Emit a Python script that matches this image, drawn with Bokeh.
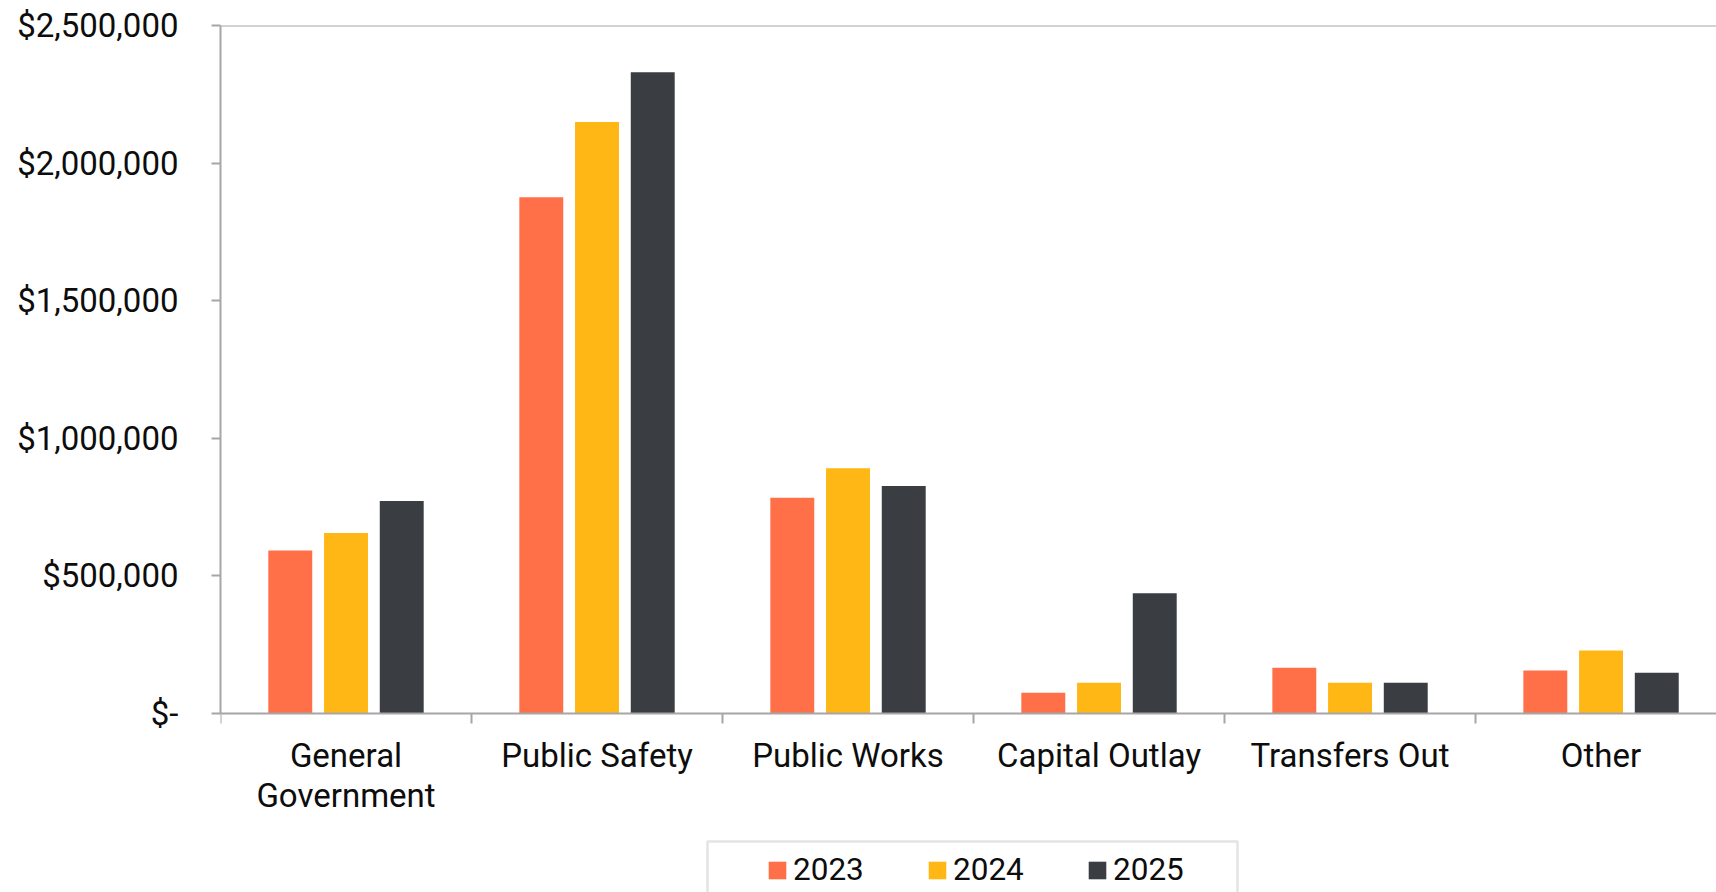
from bokeh.plotting import figure
from bokeh.models import (ColumnDataSource, Range1d, FixedTicker, Span, Legend, LegendItem, BoxAnnotation)
from bokeh.transform import dodge
from bokeh.embed import file_html
from bokeh.resources import INLINE

categories = ["General\nGovernment", "Public Safety", "Public Works", "Capital Outlay", "Transfers Out", "Other"]
v2023 = [592000, 1876000, 784000, 75000, 166000, 156000]
v2024 = [656000, 2149000, 891000, 112000, 112000, 229000]
v2025 = [772000, 2330000, 827000, 437000, 112000, 148000]
years = ["2023", "2024", "2025"]
y_ticks = [0, 500000, 1000000, 1500000, 2000000, 2500000]
y_tick_labels = ["$-", "$500,000", "$1,000,000", "$1,500,000", "$2,000,000", "$2,500,000"]

colors = ["#FF7049", "#FFB716", "#3A3E42"]
grey = "#A6A6A6"
font = "Roboto"
text_color = "#0D0D0D"

centers = [i + 0.5 for i in range(len(categories))]
bounds = [i for i in range(len(categories) + 1)]

# frame: top at 25px, zero line at 713px, canvas bottom at 892px
plot_px = 688
below_px = 179
y_top = y_ticks[-1]
y_bottom = -y_top * below_px / plot_px

src = ColumnDataSource(dict(x=centers, v2023=v2023, v2024=v2024, v2025=v2025))

p = figure(width=1716, height=892, output_backend="svg", toolbar_location=None,
           x_range=Range1d(0, 5.96), y_range=Range1d(y_bottom, y_top),
           min_border_left=220, min_border_top=25, min_border_right=0, min_border_bottom=0)
p.outline_line_color = None
p.grid.visible = False
p.background_fill_color = "white"
p.border_fill_color = "white"

offsets = [-0.222, 0.0, 0.222]
renderers = []
for yr, col, off in zip(years, colors, offsets):
    r = p.vbar(x=dodge("x", off), top="v" + yr, width=0.175, bottom=0, source=src,
               fill_color=col, line_color=None)
    renderers.append(r)

# top border line
p.add_layout(Span(location=y_top, dimension="width", line_color=grey, line_width=2))

# y axis
ya = p.yaxis[0]
ya.ticker = FixedTicker(ticks=y_ticks)
ya.bounds = (0, y_top)
ya.major_label_overrides = {t: l for t, l in zip(y_ticks, y_tick_labels)}
ya.axis_line_color = grey
ya.axis_line_width = 2
ya.major_tick_line_color = grey
ya.major_tick_line_width = 2
ya.major_tick_out = 9
ya.major_tick_in = 0
ya.minor_tick_line_color = None
ya.major_label_standoff = 33
ya.major_label_text_font = font
ya.major_label_text_font_size = "33px"
ya.major_label_text_color = text_color

# x axis, drawn at the zero line
xa = p.xaxis[0]
xa.fixed_location = 0
xa.ticker = FixedTicker(ticks=centers, minor_ticks=bounds)
xa.major_label_overrides = {c: l for c, l in zip(centers, categories)}
xa.axis_line_color = grey
xa.axis_line_width = 2
xa.major_tick_line_color = None
xa.major_tick_out = 0
xa.major_tick_in = 0
xa.minor_tick_line_color = grey
xa.minor_tick_line_width = 2
xa.minor_tick_out = 10
xa.minor_tick_in = 0
xa.major_label_standoff = 12
xa.major_label_text_font = font
xa.major_label_text_font_size = "33px"
xa.major_label_text_line_height = 1.05
xa.major_label_text_color = text_color

# legend frame (canvas pixels)
p.add_layout(BoxAnnotation(left=707, right=1237, top=841, bottom=905,
                           left_units="canvas", right_units="canvas",
                           top_units="canvas", bottom_units="canvas",
                           fill_color="white", fill_alpha=1.0,
                           line_color=grey, line_width=2.5, level="overlay"))

legend = Legend(items=[LegendItem(label=yr, renderers=[r]) for yr, r in zip(years, renderers)],
                orientation="horizontal", location=(546, 4), margin=0,
                glyph_width=22, glyph_height=22, label_standoff=5, label_width=90, spacing=43,
                padding=0, label_text_font=font, label_text_font_size="31.5px",
                label_text_color=text_color, border_line_color=None,
                background_fill_alpha=0.0)
p.add_layout(legend, "center")

open("out.html", "w").write(file_html(p, INLINE))
